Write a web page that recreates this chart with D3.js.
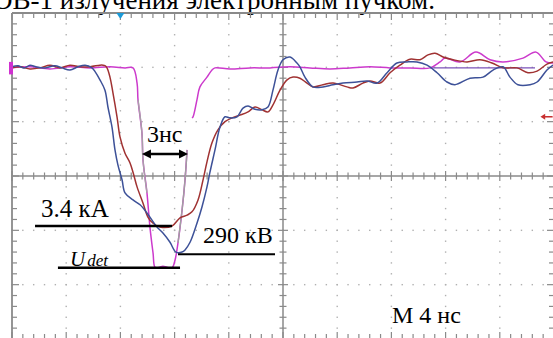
<!DOCTYPE html>
<html><head><meta charset="utf-8">
<script src="https://cdn.jsdelivr.net/npm/d3@7"></script>
<style>html,body{margin:0;padding:0;background:#fff;}svg{display:block;}</style>
</head><body>
<svg id="c" width="553" height="338"></svg>
<script>
// time axis: ns (4 ns/div), vertical: divisions from the centre line
const blueT=[0,0.44,0.89,1.33,1.77,2.44,3.17,3.69,4.28,4.87,5.39,5.90,6.13,6.49,6.86,7.08,7.38,7.60,7.82,8.12,8.34,8.93,9.45,9.96,10.70,11.14,11.66,12.10,12.55,12.77,13.14,13.65,14.02,14.39,14.61,14.98,15.35,15.72,16.09,16.61,17.05,17.42,17.93,18.45,18.89,19.26,19.63,20.00,20.52,21.03,21.25,21.62,22.21,22.95,23.69,24.43,25.46,26.20,26.94,27.68,28.41,29.15,29.89,30.63,31.37,32.10,32.69,33.80,34.76,35.50,36.24,36.75,37.34,38.23,38.75,39.48,39.93];
const blueV=[2.01,2.03,1.99,2.04,2.01,1.99,2.03,1.99,1.95,2.01,2.04,1.99,1.92,1.77,1.58,1.27,0.90,0.48,0.20,-0.07,-0.31,-0.44,-0.53,-0.68,-0.94,-1.05,-1.22,-1.40,-1.40,-1.36,-1.22,-0.87,-0.57,-0.20,0.07,0.48,0.90,1.09,1.07,1.09,1.25,1.29,1.23,1.22,1.27,1.58,1.95,2.14,2.19,2.08,2.01,1.82,1.64,1.64,1.68,1.71,1.73,1.75,1.71,1.90,2.08,2.10,2.10,2.04,1.90,1.73,1.68,1.80,1.82,1.95,2.01,1.82,1.68,1.68,1.73,1.95,2.04];
const redT=[0,0.59,1.33,2.07,2.80,3.54,4.28,5.02,5.76,6.49,6.72,6.86,7.01,7.23,7.45,7.75,7.97,8.34,8.71,8.93,9.23,9.67,10.04,10.41,10.92,11.81,12.40,12.92,13.28,13.73,14.10,14.39,14.76,15.20,15.72,16.24,16.83,17.42,17.93,18.45,18.89,19.26,19.78,20.30,20.74,21.25,21.77,22.21,22.95,23.69,24.72,25.17,25.90,26.42,27.16,27.90,28.63,29.37,30.11,30.70,31.22,31.81,32.55,33.58,34.54,35.42,36.24,37.27,38.08,38.75,39.48,39.93];
const redV=[1.99,2.01,1.97,1.99,2.04,1.99,2.04,2.01,2.01,2.04,2.04,2.03,1.99,1.82,1.53,1.09,0.72,0.42,0.24,0.07,-0.20,-0.50,-0.76,-0.87,-0.94,-0.92,-0.77,-0.72,-0.66,-0.44,-0.07,0.26,0.61,0.85,1.00,1.07,1.12,1.18,1.27,1.22,1.18,1.31,1.58,1.77,1.82,1.80,1.71,1.64,1.68,1.71,1.64,1.62,1.71,1.75,1.71,1.90,2.04,2.15,2.14,2.23,2.26,2.19,2.14,2.10,2.14,2.08,1.99,1.99,1.90,1.93,2.06,2.10];
// U_det (null = gap in the trace)
const udetT=[0,1.33,2.80,4.28,5.76,7.23,8.34,8.93,9.23,9.30,9.59,9.67,9.96,10.18,10.41,10.55,10.77,11.14,11.44,11.81,12.03,12.25,12.55,12.77,12.92,13.10,13.28,13.36,13.65,13.87,14.39,14.76,14.98,16.09,17.56,19.04,20.52,21.99,23.47,24.94,26.42,27.90,29.37,30.85,31.59,31.96,33.06,34.24,35.28,36.24,37.71,38.67,39.41,39.93];
const udetV=[1.99,2.01,1.97,2.01,1.99,2.01,1.99,1.99,1.71,1.40,0.79,0.29,-0.31,-0.94,-1.42,-1.68,-1.69,-1.66,-1.68,-1.69,-1.55,-1.23,-0.63,-0.07,0.48,null,1.07,1.09,1.40,1.64,1.82,1.95,1.99,1.97,1.99,1.99,2.01,1.99,1.97,1.99,2.01,1.99,1.99,1.99,2.10,2.17,2.10,2.28,2.14,2.10,2.17,2.28,2.10,2.08];
const refT=[30.85,38.60];
const refV=[1.99,1.99];
const labels=["3нс","3.4 кА","290 кВ","M 4 нс"];
const title="ОВ-1 излучения электронным пучком.";

const svg=d3.select("#c");
const W=553,H=338;
svg.append("rect").attr("width",W).attr("height",H).attr("fill","#fff");
const x=d3.scaleLinear().domain([0,40]).range([12,554]);
const y=d3.scaleLinear().domain([-3,3]).range([339,13]);
const serif='"Liberation Serif","Times New Roman",serif';

// title (clipped at top, as in the reference)
svg.append("text").attr("x",-7).attr("y",8.5).attr("font-family",serif).attr("font-size",27)
  .attr("fill","#000").text(title);

const g=svg.append("g");
const frameC="#8a8a8a", dotC="#b0b0b0";
// dotted major grid
for(let i=1;i<10;i++){ if(i===5) continue;
  for(let j=0;j<=30;j++){ g.append("rect").attr("x",x(i*4)-0.7).attr("y",y(-3+j*0.2)-0.7).attr("width",1.4).attr("height",1.4).attr("fill",dotC);} }
for(let i=-2;i<=2;i++){ if(i===0) continue;
  for(let j=0;j<=50;j++){ g.append("rect").attr("x",x(j*0.8)-0.7).attr("y",y(i)-0.7).attr("width",1.4).attr("height",1.4).attr("fill",dotC);} }
// frame and centre lines
const L=(x1,y1,x2,y2,w)=>g.append("line").attr("x1",x1).attr("y1",y1).attr("x2",x2).attr("y2",y2).attr("stroke",frameC).attr("stroke-width",w||1.5);
L(x(0),y(3),x(40),y(3),1.8); L(x(0),y(3),x(0),y(-3),1.8); L(x(40),y(3),x(40),y(-3),1.8); L(x(0),y(-3),x(40),y(-3),1.8);
L(x(20),y(3),x(20),y(-3),1.5); L(x(0),y(0),x(40),y(0),1.5);
for(let j=0;j<=50;j++){ const t=j*0.8, maj=j%5===0, px=x(t);
  L(px,y(3),px,y(3)+(maj?7:5),1.2);
  L(px,y(-3),px,y(-3)-(maj?7:5),1.2);
  L(px,y(0)-(maj?5:3.5),px,y(0)+(maj?5:3.5),1.2); }
for(let j=0;j<=30;j++){ const v=-3+j*0.2, maj=j%5===0, py=y(v);
  L(x(0),py,x(0)+(maj?7:5),py,1.2);
  L(x(40),py,x(40)-(maj?7:5),py,1.2);
  L(x(20)-(maj?5:3.5),py,x(20)+(maj?5:3.5),py,1.2); }

// traces
const line=d3.line().defined(d=>d[1]!==null).x(d=>x(d[0])).y(d=>y(d[1])).curve(d3.curveCatmullRom.alpha(0.5));
const zip=(a,b)=>a.map((t,i)=>[t,b[i]]);
const udet=zip(udetT,udetV);
svg.append("path").attr("d",line(zip(refT,refV))).attr("fill","none").attr("stroke","#7b52b8").attr("stroke-width",1.4);
svg.append("path").attr("d",line(udet)).attr("fill","none").attr("stroke","#cc3acc").attr("stroke-width",1.5);
svg.append("path").attr("d",line(udet.filter(d=>d[0]>=12.2&&d[0]<=12.95))).attr("fill","none").attr("stroke","#a0a0a0").attr("stroke-width",1.4);
svg.append("path").attr("d",line(udet.filter(d=>d[0]>=9.28&&d[0]<=9.97))).attr("fill","none").attr("stroke","#a8a0a8").attr("stroke-width",1.4);
svg.append("path").attr("d",line(zip(redT,redV))).attr("fill","none").attr("stroke","#a03232").attr("stroke-width",1.5);
svg.append("path").attr("d",line(zip(blueT,blueV))).attr("fill","none").attr("stroke","#3d5198").attr("stroke-width",1.5);

// markers
svg.append("rect").attr("x",9).attr("y",y(2.1)).attr("width",4).attr("height",y(1.87)-y(2.1)).attr("fill","#d030d0");
const tx=x(8.0);
svg.append("path").attr("d",`M${tx-4},${y(3)} L${tx+4},${y(3)} L${tx},${y(3)+6} Z`).attr("fill","#1a9ad8");
const ry=y(1.09);
svg.append("path").attr("d",`M${x(39.9)},${ry} L${x(39.3)},${ry}`).attr("stroke","#c83030").attr("stroke-width",1.5);
svg.append("path").attr("d",`M${x(39.0)},${ry} L${x(39.35)},${ry-3} L${x(39.35)},${ry+3} Z`).attr("fill","#c83030");

// annotations
const A=svg.append("g");
const bl=(t1,t2,v,w)=>A.append("line").attr("x1",x(t1)).attr("x2",x(t2)).attr("y1",y(v)).attr("y2",y(v)).attr("stroke","#000").attr("stroke-width",w);
bl(1.70,11.81,-0.92,2.6);
bl(12.25,19.41,-1.44,2.2);
bl(3.39,12.40,-1.69,2.4);
// 3 ns double arrow
const ay=y(0.405), a1=x(9.59), a2=x(12.99);
A.append("line").attr("x1",a1+6).attr("x2",a2-6).attr("y1",ay).attr("y2",ay).attr("stroke","#000").attr("stroke-width",2.6);
A.append("path").attr("d",`M${a1},${ay} L${a1+9},${ay-4.5} L${a1+9},${ay+4.5} Z`).attr("fill","#000");
A.append("path").attr("d",`M${a2},${ay} L${a2-9},${ay-4.5} L${a2-9},${ay+4.5} Z`).attr("fill","#000");

const T=(s,px,py,fs)=>A.append("text").attr("x",px).attr("y",py).attr("font-family",serif).attr("font-size",fs).attr("fill","#000").text(s);
T(labels[0],147,142,24);
T(labels[1],41,217,25);
T(labels[2],203,243,24);
T(labels[3],392,323,24);
const u=A.append("text").attr("x",70).attr("y",266).attr("font-family",serif).attr("font-style","italic").attr("fill","#000");
u.append("tspan").attr("font-size",21).text("U");
u.append("tspan").attr("font-size",17).attr("dx",2).text("det");
</script>
</body></html>
